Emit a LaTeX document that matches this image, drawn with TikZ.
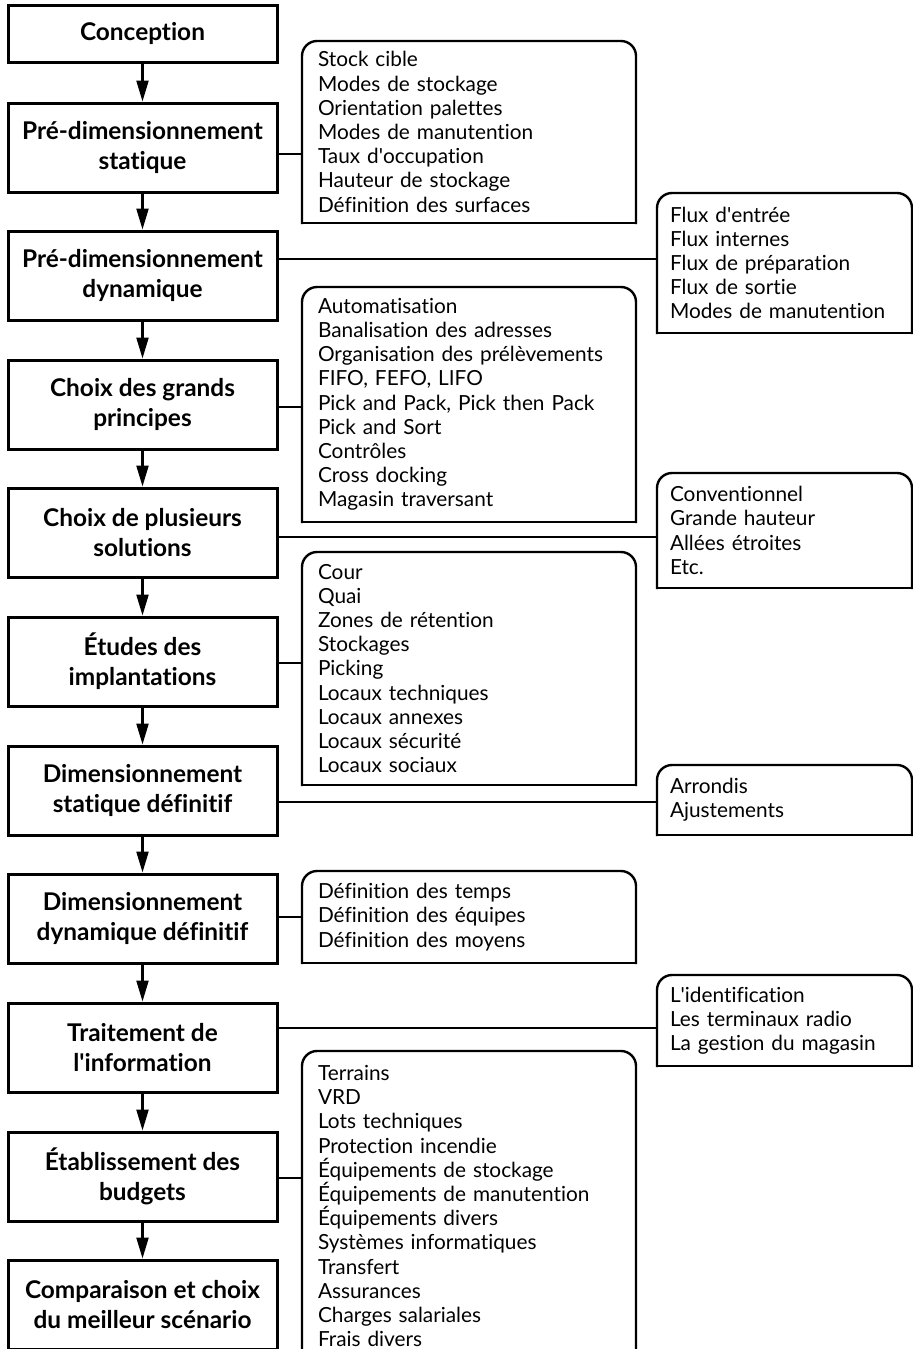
\documentclass[tikz,border=0pt]{standalone}
\usepackage{fontspec}
\setmainfont{Lato}[Ligatures={NoCommon}]
\usetikzlibrary{arrows.meta}

\begin{document}
\begin{tikzpicture}[x=0.5pt,y=-0.5pt,
  stagebox/.style={draw, line width=1.5pt, minimum width=134.5pt, minimum height=44.5pt,
    inner sep=0pt, align=center, font=\fontsize{12.2}{15}\selectfont\bfseries},
  lista/.style={anchor=north west, outer sep=0pt, inner xsep=8pt, inner ysep=0pt,
    text width=151pt, align=left, font=\fontsize{10.4}{12.1}\selectfont},
  listb/.style={lista, inner xsep=6.5pt, text width=114.5pt},
  listframe/.style={line width=1.2pt, rounded corners=7.5pt, line cap=rect},
  flow/.style={-{Triangle[length=10.5pt,width=6pt]}, line width=1.1pt},
  link/.style={line width=1.1pt}]
\useasboundingbox (0,0) rectangle (913,1349);

%Main steps
\node[stagebox, minimum height=28.5pt] (conc) at (142.5,33.5) {Conception};
\node[stagebox] (pds) at (142.5,147.5) {Pré-dimensionnement\\statique};
\node[stagebox] (pdd) at (142.5,275.5) {Pré-dimensionnement\\dynamique};
\node[stagebox] (cgp) at (142.5,404.5) {Choix des grands\\principes};
\node[stagebox] (cps) at (142.5,532.5) {Choix de plusieurs\\solutions};
\node[stagebox] (eti) at (142.5,661.5) {Études des\\implantations};
\node[stagebox] (dsd) at (142.5,790.5) {Dimensionnement\\statique définitif};
\node[stagebox] (ddd) at (142.5,918.5) {Dimensionnement\\dynamique définitif};
\node[stagebox] (tri) at (142.5,1047.5) {Traitement de\\l\textquotesingle information};
\node[stagebox] (etb) at (142.5,1176.5) {Établissement des\\budgets};
\node[stagebox] (cmp) at (142.5,1304.5) {Comparaison et choix\\du meilleur scénario};

%Arrows
\foreach \a/\b in {conc/pds,pds/pdd,pdd/cgp,cgp/cps,cps/eti,eti/dsd,dsd/ddd,ddd/tri,tri/etb,etb/cmp}
  \draw[flow] (\a) -- (\b);

%Lists, inner column
\node[lista, minimum height=91pt] (lstock) at (302,41) {Stock cible\\Modes de stockage\\Orientation palettes\\Modes de manutention\\Taux d\textquotesingle occupation\\Hauteur de stockage\\Définition des surfaces};
\node[lista, minimum height=117.5pt] (lauto) at (302,287) {Automatisation\\Banalisation des adresses\\Organisation des prélèvements\\FIFO, FEFO, LIFO\\Pick and Pack, Pick then Pack\\Pick and Sort\\Contrôles\\Cross docking\\Magasin traversant};
\node[lista, minimum height=116.5pt] (limpl) at (302,552) {Cour\\Quai\\Zones de rétention\\Stockages\\Picking\\Locaux techniques\\Locaux annexes\\Locaux sécurité\\Locaux sociaux};
\node[lista, minimum height=46pt] (lmoyens) at (302,871) {Définition des temps\\Définition des équipes\\Définition des moyens};
\node[lista, minimum height=155pt] (lbudget) at (302,1051) {Terrains\\VRD\\Lots techniques\\Protection incendie\\Équipements de stockage\\Équipements de manutention\\Équipements divers\\Systèmes informatiques\\Transfert\\Assurances\\Charges salariales\\Frais divers};

%Lists, outer column
\node[listb, minimum height=70pt] (lflux) at (657,193) {Flux d\textquotesingle entrée\\Flux internes\\Flux de préparation\\Flux de sortie\\Modes de manutention};
\node[listb, minimum height=57.5pt] (lsol) at (657,473) {Conventionnel\\Grande hauteur\\Allées étroites\\Etc.};
\node[listb, minimum height=35pt] (lajust) at (657,765) {Arrondis\\Ajustements};
\node[listb, minimum height=45.5pt] (lradio) at (657,975) {L\textquotesingle identification\\Les terminaux radio\\La gestion du magasin};

%Frames, rounded on top only
\foreach \b in {lstock,lauto,limpl,lmoyens,lbudget,lflux,lsol,lajust,lradio}{
  \draw[listframe] (\b.south west) -- (\b.north west) -- (\b.north east) -- (\b.south east);
  \draw[listframe, sharp corners] (\b.south west) -- (\b.south east);
}

%Connectors
\draw[link] (pds.east |- 0,154) -- (lstock.west |- 0,154);
\draw[link] (pdd.east |- 0,259) -- (lflux.west |- 0,259);
\draw[link] (cgp.east |- 0,407) -- (lauto.west |- 0,407);
\draw[link] (cps.east |- 0,537) -- (lsol.west |- 0,537);
\draw[link] (eti.east |- 0,663) -- (limpl.west |- 0,663);
\draw[link] (dsd.east |- 0,802) -- (lajust.west |- 0,802);
\draw[link] (ddd.east |- 0,917) -- (lmoyens.west |- 0,917);
\draw[link] (tri.east |- 0,1028) -- (lradio.west |- 0,1028);
\draw[link] (etb.east |- 0,1178) -- (lbudget.west |- 0,1178);
\end{tikzpicture}
\end{document}
